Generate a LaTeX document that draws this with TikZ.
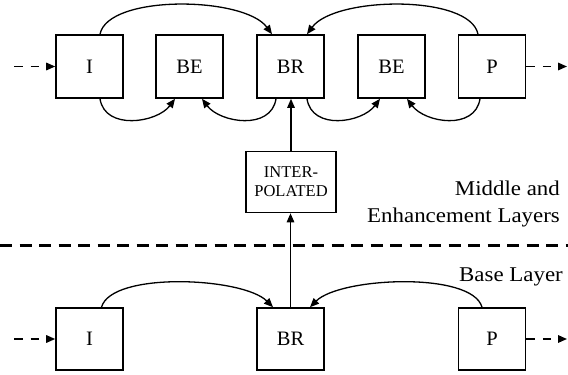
\documentclass[tikz,border=0pt]{standalone}
\usepackage{fontspec}
\setmainfont{Liberation Serif}
\newfontfamily\layerfont[FakeStretch=1.09]{Liberation Serif}
\usetikzlibrary{arrows.meta}

\begin{document}
\begin{tikzpicture}[x=1pt,y=-1pt,
  frame/.style={draw, line width=1.6pt, minimum width=67pt, minimum height=63pt,
    inner sep=0pt, font=\fontsize{20.5}{24}\selectfont},
  pred/.style={line width=1.3pt, -{Triangle[length=9pt,width=7.5pt]}},
  cont/.style={line width=1.6pt, dash pattern=on 8.5pt off 8pt,
    -{Triangle[length=9pt,width=7.5pt]}},
  layer/.style={font=\layerfont\fontsize{21}{26}\selectfont, inner sep=0pt}]

\useasboundingbox (0,0) rectangle (568,375);

% enhancement layer frames
\node[frame] (tI)   at (89.5,66.5)  {I};
\node[frame] (tBE1) at (189.5,66.5) {BE};
\node[frame] (tBR)  at (290.5,66.5) {BR};
\node[frame] (tBE2) at (391.5,66.5) {BE};
\node[frame] (tP)   at (492,66.5)   {P};

% interpolated frame
\node[frame, minimum width=90pt, minimum height=61pt,
  font=\fontsize{16.5}{19}\selectfont, align=center] (ip) at (291,182) {INTER-\\POLATED};

% base layer frames
\node[frame, minimum height=62pt] (bI)  at (89.5,339)  {I};
\node[frame, minimum height=62pt] (bBR) at (290.5,339) {BR};
\node[frame, minimum height=62pt] (bP)  at (492,339)   {P};

% layer labels
\node[layer, anchor=base east] (mid1) at (560,195.7) {Middle and};
\node[layer, anchor=base east] (mid2) at (560,222.3) {Enhancement Layers};
\node[layer, anchor=base east] (base) at (563,281)   {Base Layer};

% layer separator
\coordinate (sepL) at (0,245);
\coordinate (sepR) at (568,245);
\draw[line width=3pt, dash pattern=on 12pt off 7.5pt] (sepL) -- (sepR);

% sequence continuation
\coordinate (tin)  at (14,66.5);
\coordinate (tout) at (567,66.5);
\coordinate (bin)  at (14,339);
\coordinate (bout) at (567,339);
\draw[cont] (tin) -- (tI.west);
\draw[cont] (tP.east) -- (tout);
\draw[cont] (bin) -- (bI.west);
\draw[cont] (bP.east) -- (bout);

% top row references, over the frames
\draw[pred] ([xshift=10.5pt]tI.north) .. controls +(8,-40) and +(-28,-38) .. ([xshift=-18.5pt]tBR.north);
\draw[pred] ([xshift=-14pt]tP.north) .. controls +(-8,-40) and +(28,-38) .. ([xshift=16.5pt]tBR.north);

% top row references, under the frames
\draw[pred] ([xshift=10.5pt]tI.south) .. controls +(5,32) and +(-18,24) .. ([xshift=-14.5pt]tBE1.south);
\draw[pred] ([xshift=-14.5pt]tBR.south) .. controls +(-5,32) and +(18,24) .. ([xshift=12.5pt]tBE1.south);
\draw[pred] ([xshift=16.5pt]tBR.south) .. controls +(5,32) and +(-18,24) .. ([xshift=-11.5pt]tBE2.south);
\draw[pred] ([xshift=-12pt]tP.south) .. controls +(-5,32) and +(18,24) .. ([xshift=15.5pt]tBE2.south);

% base layer references
\draw[pred] ([xshift=12pt]bI.north) .. controls +(10,-36) and +(-30,-30) .. ([xshift=-17.5pt]bBR.north);
\draw[pred] ([xshift=-10pt]bP.north) .. controls +(-10,-36) and +(30,-30) .. ([xshift=19.5pt]bBR.north);

% upsampling path
\draw[pred] (bBR.north) -- (bBR.north |- ip.south);
\draw[pred] (ip.north) -- (ip.north |- tBR.south);

\end{tikzpicture}
\end{document}
